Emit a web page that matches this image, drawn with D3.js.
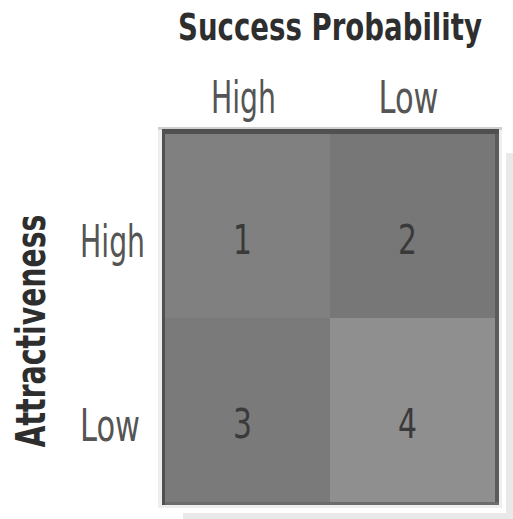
<!DOCTYPE html>
<html>
<head>
<meta charset="utf-8">
<script src="https://cdn.jsdelivr.net/npm/d3@7"></script>
<style>
  html, body { margin: 0; padding: 0; background: #ffffff; }
  svg { display: block; }
</style>
</head>
<body>
<script>
// 2x2 portfolio matrix: success probability (columns) vs attractiveness (rows)
const successLevels = ["High", "Low"];
const attractLevels = ["High", "Low"];
const cellNumbers = [1, 2, 3, 4];          // quadrant ids, row by row
const cellShades = ["#808080", "#777777", "#7a7a7a", "#8f8f8f"];
const titleText = "Success Probability";
const rowTitleText = "Attractiveness";

const W = 513, H = 519;
const FONT = "'Liberation Sans Narrow', 'DejaVu Sans Condensed', 'Arial Narrow', sans-serif";

const svg = d3.select("body").append("svg")
  .attr("width", W).attr("height", H);

// plot area (cells)
const x = d3.scaleBand().domain(successLevels).range([165, 495]);
const y = d3.scaleBand().domain(attractLevels).range([134, 502]);

const cells = [];
attractLevels.forEach((a, i) => successLevels.forEach((s, j) => {
  const k = i * successLevels.length + j;
  cells.push({ attract: a, success: s, num: cellNumbers[k], shade: cellShades[k] });
}));

// squeeze a text horizontally so it spans the given width around its anchor
function squeeze(sel, width, tx, ty, rot) {
  sel.each(function () {
    const w = this.getComputedTextLength();
    const sx = Math.min(1, width / w);
    d3.select(this).attr("transform",
      `translate(${tx},${ty})` + (rot ? ` rotate(${rot})` : "") + ` scale(${sx},1)`);
  });
}

// drop shadow behind the matrix
svg.append("rect")
  .attr("x", 183).attr("y", 153).attr("width", 360).attr("height", 400)
  .attr("fill", "#e9e9e9");
svg.append("rect")
  .attr("x", 154).attr("y", 123).attr("width", 352).attr("height", 390)
  .attr("fill", "#ffffff");

// light outer frame
svg.append("rect")
  .attr("x", 158).attr("y", 127).attr("width", 344).attr("height", 381)
  .attr("fill", "#eeeeee");
svg.append("rect")
  .attr("x", 158).attr("y", 127).attr("width", 344).attr("height", 3)
  .attr("fill", "#cfcfcf");

// dark border, drawn as bands of slightly different tone
const bx0 = 162, by0 = 129, bx1 = 499, by1 = 505;
svg.append("rect")
  .attr("x", bx0).attr("y", by0).attr("width", bx1 - bx0).attr("height", by1 - by0)
  .attr("fill", "#505050");
svg.append("rect")
  .attr("x", x.range()[1]).attr("y", y.range()[0]).attr("width", bx1 - x.range()[1]).attr("height", by1 - y.range()[0])
  .attr("fill", "#5b5b5b");
svg.append("rect")
  .attr("x", x.range()[0]).attr("y", y.range()[1]).attr("width", bx1 - x.range()[0]).attr("height", by1 - y.range()[1])
  .attr("fill", "#6c6c6c");

// quadrant cells
svg.append("g").selectAll("rect")
  .data(cells)
  .join("rect")
  .attr("x", d => x(d.success))
  .attr("y", d => y(d.attract))
  .attr("width", x.bandwidth())
  .attr("height", y.bandwidth())
  .attr("fill", d => d.shade);

// quadrant numbers
svg.append("g").selectAll("text")
  .data(cells)
  .join("text")
  .attr("text-anchor", "middle")
  .attr("font-family", FONT)
  .attr("font-size", 40)
  .attr("fill", "#3a3a3a")
  .text(d => d.num)
  .each(function (d) {
    squeeze(d3.select(this), 19,
      x(d.success) + x.bandwidth() / 2 - 5,
      y(d.attract) + y.bandwidth() / 2 + 28);
  });

// column title
svg.append("text")
  .attr("text-anchor", "middle")
  .attr("font-family", FONT)
  .attr("font-weight", "bold")
  .attr("font-size", 37)
  .attr("fill", "#2e2e2e")
  .text(titleText)
  .call(squeeze, 304, 330, 40);

// column labels
const labelWidths = { High: 65, Low: 60 };
svg.append("g").selectAll("text")
  .data(successLevels)
  .join("text")
  .attr("text-anchor", "middle")
  .attr("font-family", FONT)
  .attr("font-size", 44)
  .attr("fill", "#555555")
  .text(d => d)
  .each(function (d) {
    squeeze(d3.select(this), labelWidths[d], x(d) + x.bandwidth() / 2 - 4, 113);
  });

// row labels
svg.append("g").selectAll("text")
  .data(attractLevels)
  .join("text")
  .attr("text-anchor", "end")
  .attr("font-family", FONT)
  .attr("font-size", 44)
  .attr("fill", "#555555")
  .text(d => d)
  .each(function (d) {
    squeeze(d3.select(this), labelWidths[d],
      d === "High" ? 145 : 140, y(d) + y.bandwidth() / 2 + 31);
  });

// row title, rotated
svg.append("text")
  .attr("text-anchor", "middle")
  .attr("font-family", FONT)
  .attr("font-weight", "bold")
  .attr("font-size", 41)
  .attr("fill", "#2e2e2e")
  .text(rowTitleText)
  .call(squeeze, 233, 45, 331, -90);
</script>
</body>
</html>
